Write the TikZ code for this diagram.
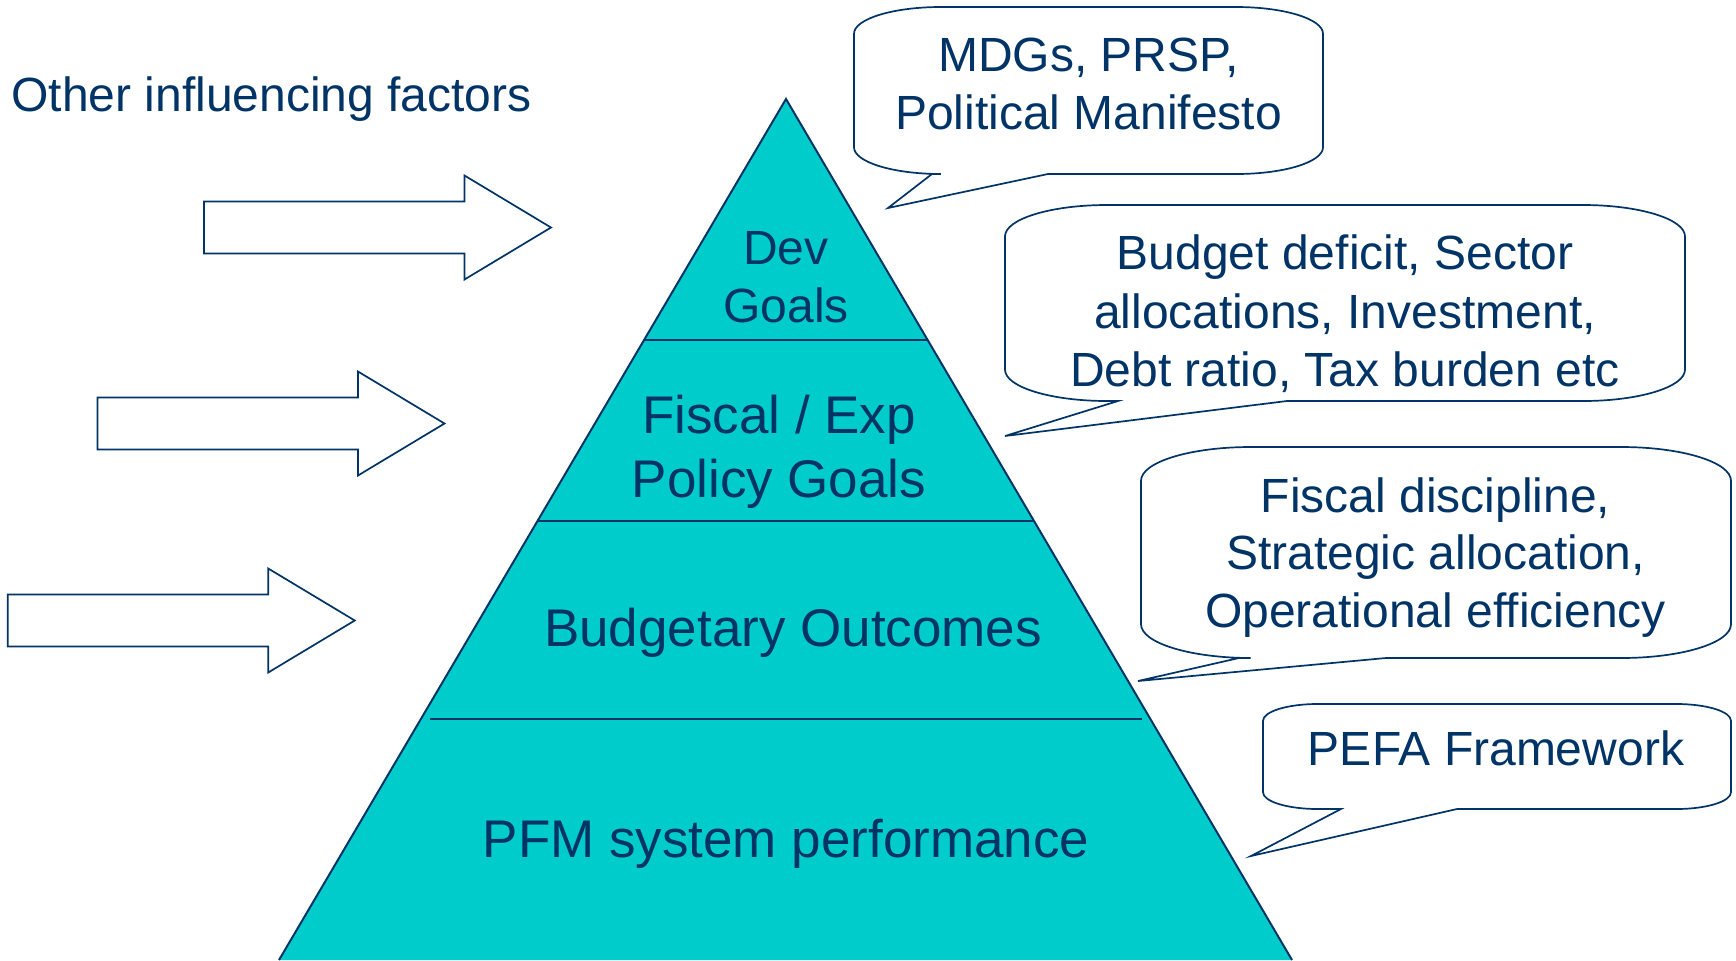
\documentclass[tikz,border=0pt]{standalone}
\usepackage{fontspec}
\setmainfont{Liberation Sans}
\definecolor{navy}{RGB}{0,51,102}
\definecolor{pyrteal}{RGB}{0,204,204}

% Rounded speech bubble with a wedge tail on its bottom edge.
% #1 left, #2 top, #3 right, #4 bottom, #5/#6 tail base (left/right), #7,#8 tail tip
\newcommand\speechbubble[8]{%
  \pgfmathsetmacro\bh{#4-#2}%
  \pgfmathsetmacro\rx{0.52*\bh}%
  \pgfmathsetmacro\ry{0.16*\bh}%
  \pgfmathsetmacro\kx{0.4477*\rx}%
  \pgfmathsetmacro\ky{0.4477*\ry}%
  \draw[bubble] (#1,#2+\ry) .. controls (#1,#2+\ky) and (#1+\kx,#2) .. (#1+\rx,#2)
    -- (#3-\rx,#2) .. controls (#3-\kx,#2) and (#3,#2+\ky) .. (#3,#2+\ry)
    -- (#3,#4-\ry) .. controls (#3,#4-\ky) and (#3-\kx,#4) .. (#3-\rx,#4)
    -- (#6,#4) -- (#7,#8) -- (#5,#4)
    -- (#1+\rx,#4) .. controls (#1+\kx,#4) and (#1,#4-\ky) .. (#1,#4-\ry) -- cycle;
}

% Hollow block arrow pointing right: #1 left end of shaft, #2 centre line
\newcommand\blockarrow[2]{%
  \draw[outline] (#1,#2-26) -- (#1+260.5,#2-26) -- (#1+260.5,#2-52) -- (#1+347,#2)
    -- (#1+260.5,#2+52) -- (#1+260.5,#2+26) -- (#1,#2+26) -- cycle;
}

\begin{document}
\begin{tikzpicture}[x=0.5pt,y=-0.5pt,
  outline/.style={draw=navy,line width=0.85pt,line join=miter,fill=white},
  bubble/.style={outline},
  layer/.style={draw=navy,line width=0.85pt},
  pyrtext/.style={text=navy,align=center,inner sep=0pt,font=\fontsize{26.5}{29.5}\selectfont},
  notetext/.style={text=navy,align=center,inner sep=0pt,font=\fontsize{24}{28.8}\selectfont}]
\useasboundingbox (0,0) rectangle (1736,960);

% pyramid
\coordinate (apex) at (786,99);
\coordinate (bl) at (279,960);
\coordinate (br) at (1292,960);
\fill[pyrteal] (apex) -- (br) -- (bl) -- cycle;
\draw[layer] (644.5,340) -- (927.5,340);
\draw[layer] (537.8,521) -- (1034.2,521);
\draw[layer] (430,719) -- (1142,719);
\draw[navy,line width=1pt] (bl) -- (apex) -- (br);

\node[pyrtext,font=\fontsize{24}{29.2}\selectfont] (dev) at (786,277) {Dev\\Goals};
\node[pyrtext,font=\fontsize{26.5}{31.8}\selectfont] (fiscal) at (779,452) {Fiscal / Exp\\Policy Goals};
\node[pyrtext] (budget) at (793,632.5) {Budgetary Outcomes};
\node[pyrtext] (pfm) at (786,843.5) {PFM system performance};

% influencing factors
\node[notetext,anchor=west] (other) at (11,98.8) {Other influencing factors};
\blockarrow{204}{227.5}
\blockarrow{97.5}{423.5}
\blockarrow{7.75}{620.5}

% speech bubbles
\speechbubble{854}{7}{1323}{174}{932}{1048}{888}{208}
\speechbubble{1005}{205}{1685}{401}{1118}{1287}{1005}{436}
\speechbubble{1141}{447}{1731}{658}{1239}{1386}{1138}{681}
\speechbubble{1263}{704}{1731}{809}{1341}{1457}{1251}{856}

\node[notetext] (mdg) at (1088.5,84) {MDGs, PRSP,\\Political Manifesto};
\node[notetext,font=\fontsize{24}{29.25}\selectfont] (deficit) at (1345,313.8) {Budget deficit, Sector\\allocations, Investment,\\Debt ratio, Tax burden etc};
\node[notetext,font=\fontsize{24}{28.75}\selectfont] (discipline) at (1435.5,557.3) {Fiscal discipline,\\Strategic allocation,\\Operational efficiency};
\node[notetext] (pefa) at (1496,748) {PEFA Framework};
\end{tikzpicture}
\end{document}
